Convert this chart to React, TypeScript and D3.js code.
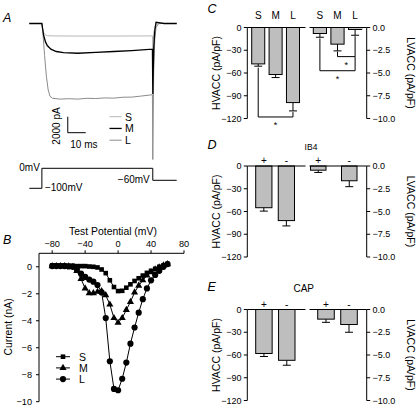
import React from "react";
import * as d3 from "d3";

const FONT = "'Liberation Sans', Arial, Helvetica, sans-serif";

// ---------- Panel A: current traces (time in ms, current in nA) ----------
const TRACE_S: [number, number][] = [
  [-7, 0], [0, 0], [0.3, -0.5], [1, -1.15], [2, -1.42], [3, -1.52], [6, -1.55], [20, -1.57],
  [40, -1.57], [61.5, -1.55], [61.7, -3.6], [62.2, -1.2], [63, -0.3], [64.5, -0.05], [67, 0], [75, 0],
];
const TRACE_M: [number, number][] = [
  [-7, 0], [0, 0], [0.3, -0.5], [1, -1.5], [2, -2.3], [3, -2.75], [5, -3.2], [8, -3.5], [12, -3.65],
  [20, -3.72], [30, -3.62], [40, -3.5], [50, -3.38], [61.5, -3.2], [61.7, -8.8], [62.2, -3.2],
  [62.8, -0.9], [63.5, 0.15], [65, 0.1], [68, 0], [75, 0],
];
const TRACE_L: [number, number][] = [
  [-7, 0], [0, 0], [0.5, -1], [1.5, -4], [2.5, -6.6], [3.5, -8.3], [4.5, -9.1], [6, -9.35],
  [10, -9.45], [15, -9.4], [20, -9.45], [25, -9.35], [30, -9.38], [35, -9.3], [40, -9.33],
  [45, -9.22], [50, -9.2], [55, -9.08], [61.5, -8.9], [61.7, -17], [62.2, -6], [62.8, -2],
  [63.5, -0.5], [65, 0], [75, 0],
];
const PROTOCOL: [number, number][] = [
  [-7, -100], [0, -100], [0, 0], [61.7, 0], [61.7, -60], [75, -60],
];
const A_LEGEND = ["S", "M", "L"];

// ---------- Panel B: I-V curves ----------
const TEST_POTENTIALS = [
  -80, -75, -70, -65, -60, -55, -50, -45, -40, -35, -30, -25, -20, -15, -10,
  -5, 0, 5, 10, 15, 20, 25, 30, 35, 40, 45, 50, 55, 60,
];
const IV_S = [
  0.1, 0.1, 0.1, 0.1, 0.08, 0.08, 0.05, 0.05, 0.05, 0.02, 0, -0.05, -0.2, -0.47, -1.0,
  -1.5, -1.8, -1.78, -1.55, -1.3, -1.05, -0.85, -0.65, -0.45, -0.3, -0.15, 0, 0.1, 0.2,
];
const IV_M = [
  0.05, 0.05, 0.05, 0.05, 0.03, 0, -0.3, -0.9, -1.6, -1.95, -1.95, -1.85, -1.8, -2.1, -2.8,
  -3.8, -4.15, -3.8, -3.2, -2.6, -1.9, -1.4, -1.0, -0.65, -0.4, -0.2, -0.05, 0.1, 0.2,
];
const IV_L = [
  0.05, 0.05, 0.05, 0.05, 0.02, 0, -0.2, -0.5, -0.75, -0.95, -1.1, -1.35, -1.9, -3.8, -7.0,
  -9.05, -9.15, -8.3, -7.1, -5.7, -4.5, -3.4, -2.4, -1.6, -1.0, -0.6, -0.3, 0, 0.2,
];
const B_X_TICKS = [-80, -40, 0, 40, 80];
const B_Y_TICKS = [0, -2, -4, -6, -8, -10];
const B_LEGEND = ["S", "M", "L"];

// ---------- Panels C, D, E: bar charts ----------
const HV_TICKS = [0, -30, -60, -90, -120];
const LV_TICKS = [0, -2.5, -5, -7.5, -10];

const C_GROUPS = ["S", "M", "L"];
const C_HV = [-48, -62, -99];
const C_HV_ERR = [3, 4, 11];
const C_LV = [-0.66, -1.83, -0.22];
const C_LV_ERR = [0.41, 0.74, 0.63];

const D_GROUPS = ["+", "-"];
const D_HV = [-55, -72];
const D_HV_ERR = [4.5, 7];
const D_LV = [-0.46, -1.62];
const D_LV_ERR = [0.25, 0.65];

const E_GROUPS = ["+", "-"];
const E_HV = [-58, -67];
const E_HV_ERR = [4, 6.5];
const E_LV = [-1.06, -1.65];
const E_LV_ERR = [0.35, 0.85];

const BAR_FILL = "#bebebe";

function PanelA() {
  const x = d3.scaleLinear().domain([-7, 75]).range([29.3, 176.7]);
  const y = d3.scaleLinear().domain([0, -17]).range([23.5, 159.5]);
  const v = d3.scaleLinear().domain([0, -100]).range([168.3, 188.3]);
  const line = d3.line<[number, number]>().x((d) => x(d[0])).y((d) => y(d[1]));
  const pline = d3.line<[number, number]>().x((d) => x(d[0])).y((d) => v(d[1]));
  const colors = ["#b8b8b8", "#000", "#8c8c8c"];
  const sbT = 14.4, sbI = -13.65;
  return (
    <g>
      <text x={3} y={22} fontSize={12.5} fontStyle="italic" fontFamily={FONT}>A</text>
      <path d={line(TRACE_S)!} fill="none" stroke={colors[0]} strokeWidth={1} />
      <path d={line(TRACE_L)!} fill="none" stroke={colors[2]} strokeWidth={1} />
      <path d={line(TRACE_M)!} fill="none" stroke={colors[1]} strokeWidth={1.3} />
      {/* scale bar */}
      <path
        d={`M${x(sbT)},${y(sbI + 2)}V${y(sbI)}H${x(sbT + 10)}`}
        fill="none" stroke="#000" strokeWidth={1}
      />
      <text transform={`translate(60,126) rotate(-90)`} textAnchor="middle" fontSize={10} fontFamily={FONT}>2000 pA</text>
      <text x={x(sbT) + 2.5} y={148} fontSize={10} fontFamily={FONT}>10 ms</text>
      {A_LEGEND.map((s, i) => (
        <g key={s} transform={`translate(0,${116.7 + i * 11.75})`}>
          <line x1={109.5} x2={121.7} y1={0} y2={0} stroke={colors[i]} strokeWidth={i === 1 ? 1.3 : 1} />
          <text x={125} y={3.8} fontSize={10.5} fontFamily={FONT}>{s}</text>
        </g>
      ))}
      {/* protocol */}
      <path d={pline(PROTOCOL)!} fill="none" stroke="#000" strokeWidth={1} />
      <text x={x(0) - 2} y={170.5} textAnchor="end" fontSize={10} fontFamily={FONT}>0mV</text>
      <text x={x(0) + 3} y={191} fontSize={10} fontFamily={FONT}>−100mV</text>
      <text x={x(61.7) - 3} y={182.5} textAnchor="end" fontSize={10} fontFamily={FONT}>−60mV</text>
    </g>
  );
}

function PanelB() {
  const x = d3.scaleLinear().domain([-96, 80]).range([39, 184]);
  const y = d3.scaleLinear().domain([1, -10]).range([253.3, 401.7]);
  const series = [IV_S, IV_M, IV_L].map((vals) =>
    TEST_POTENTIALS.map((t, i) => [t, vals[i]] as [number, number])
  );
  const line = d3.line<[number, number]>().x((d) => x(d[0])).y((d) => y(d[1]));
  const tri = d3.symbol(d3.symbolTriangle, 22)()!;
  const marker = (k: number, cx: number, cy: number, key: string) => {
    if (k === 0) return <rect key={key} x={cx - 2.3} y={cy - 2.3} width={4.6} height={4.6} fill="#000" />;
    if (k === 1) return <path key={key} d={tri} transform={`translate(${cx},${cy})`} fill="#000" />;
    return <circle key={key} cx={cx} cy={cy} r={3.1} fill="#000" />;
  };
  const fmt = d3.format("d");
  return (
    <g>
      <text x={3} y={244} fontSize={12.5} fontStyle="italic" fontFamily={FONT}>B</text>
      <text x={113} y={234.5} textAnchor="middle" fontSize={10.4} fontFamily={FONT}>Test Potential (mV)</text>
      <line x1={x(-96)} x2={x(80)} y1={y(1)} y2={y(1)} stroke="#000" />
      {B_X_TICKS.map((t) => (
        <g key={t}>
          <line x1={x(t)} x2={x(t)} y1={y(1)} y2={y(1) - 3} stroke="#000" />
          <text x={x(t)} y={247} textAnchor="middle" fontSize={9.2} fontFamily={FONT}>{fmt(t)}</text>
        </g>
      ))}
      <line x1={x(-96)} x2={x(-96)} y1={y(1)} y2={y(-10)} stroke="#000" />
      {B_Y_TICKS.map((t) => (
        <g key={t}>
          <line x1={x(-96) - 3} x2={x(-96)} y1={y(t)} y2={y(t)} stroke="#000" />
          <text x={32} y={y(t) + 3.3} textAnchor="end" fontSize={9.2} fontFamily={FONT}>{fmt(t)}</text>
        </g>
      ))}
      <text transform={`translate(12,327) rotate(-90)`} textAnchor="middle" fontSize={10.4} fontFamily={FONT}>Current (nA)</text>
      {series.map((s, k) => (
        <g key={k}>
          <path d={line(s)!} fill="none" stroke="#000" strokeWidth={1} />
          {s.map((d, i) => marker(k, x(d[0]), y(d[1]), `${k}-${i}`))}
        </g>
      ))}
      {B_LEGEND.map((s, k) => {
        const ly = 356.7 + k * 11.2;
        return (
          <g key={s}>
            <line x1={56} x2={70} y1={ly} y2={ly} stroke="#000" />
            {marker(k, 63, ly, `lg${k}`)}
            <text x={79} y={ly + 3.8} fontSize={10.5} fontFamily={FONT}>{s}</text>
          </g>
        );
      })}
    </g>
  );
}

type BarProps = {
  y0: number;
  letter: string;
  letterY: number;
  groups: string[];
  hv: number[];
  hvErr: number[];
  lv: number[];
  lvErr: number[];
  leftRange: [number, number];
  rightRange: [number, number];
  padL: number;
  padR: number;
  labelY: number;
  title?: string;
  titleX?: number;
  titleY?: number;
  titleSize?: number;
  brackets?: boolean;
};

function BarPanel(p: BarProps) {
  const H = 91;
  const axL = 247.3, axR = 366.7;
  const yHV = d3.scaleLinear().domain([0, -120]).range([p.y0, p.y0 + H]);
  const yLV = d3.scaleLinear().domain([0, -10]).range([p.y0, p.y0 + H]);
  const xL = d3.scaleBand().domain(p.groups).range(p.leftRange).paddingInner(p.padL);
  const xR = d3.scaleBand().domain(p.groups).range(p.rightRange).paddingInner(p.padR);
  const fHV = d3.format("d");
  const fLV = d3.format(".1f");
  const cap = 4;
  const bars = (xs: d3.ScaleBand<string>, ys: d3.ScaleLinear<number, number>, vals: number[], errs: number[], key: string) =>
    p.groups.map((g, i) => {
      const bx = xs(g)!;
      const bw = xs.bandwidth();
      const cx = bx + bw / 2;
      const yb = ys(vals[i]);
      const ye = ys(vals[i] - errs[i]);
      return (
        <g key={key + g}>
          <line x1={cx} x2={cx} y1={yb} y2={ye} stroke="#000" />
          <line x1={cx - cap} x2={cx + cap} y1={ye} y2={ye} stroke="#000" />
          <rect x={bx} y={ys(0)} width={bw} height={yb - ys(0)} fill={BAR_FILL} stroke="#000" strokeWidth={1} />
        </g>
      );
    });
  const cL = (g: string) => xL(g)! + xL.bandwidth() / 2;
  const cR = (g: string) => xR(g)! + xR.bandwidth() / 2;
  return (
    <g>
      <text x={207.5} y={p.letterY} fontSize={12.5} fontStyle="italic" fontFamily={FONT}>{p.letter}</text>
      {p.title && (
        <text x={p.titleX} y={p.titleY} textAnchor="middle" fontSize={p.titleSize} fontFamily={FONT}>{p.title}</text>
      )}
      {p.groups.map((g) => (
        <g key={"lab" + g}>
          <text x={cL(g)} y={p.labelY} textAnchor="middle" fontSize={10} fontFamily={FONT}>{g}</text>
          <text x={cR(g)} y={p.labelY} textAnchor="middle" fontSize={10} fontFamily={FONT}>{g}</text>
        </g>
      ))}
      {bars(xL, yHV, p.hv, p.hvErr, "hv")}
      {bars(xR, yLV, p.lv, p.lvErr, "lv")}
      {/* axes */}
      <line x1={axL} x2={axL} y1={yHV(0)} y2={yHV(-120)} stroke="#000" />
      <line x1={axR} x2={axR} y1={yLV(0)} y2={yLV(-10)} stroke="#000" />
      <line x1={axL} x2={305.5} y1={yHV(0)} y2={yHV(0)} stroke="#000" />
      <line x1={309.5} x2={axR} y1={yLV(0)} y2={yLV(0)} stroke="#000" />
      {HV_TICKS.map((t) => (
        <g key={"h" + t}>
          <line x1={axL - 3.5} x2={axL} y1={yHV(t)} y2={yHV(t)} stroke="#000" />
          <text x={241.5} y={yHV(t) + 3.2} textAnchor="end" fontSize={9} fontFamily={FONT}>{fHV(t)}</text>
        </g>
      ))}
      {LV_TICKS.map((t) => (
        <g key={"l" + t}>
          <line x1={axR} x2={axR + 3.5} y1={yLV(t)} y2={yLV(t)} stroke="#000" />
          <text x={372.5} y={yLV(t) + 3.2} fontSize={9} fontFamily={FONT}>{fLV(t)}</text>
        </g>
      ))}
      <text transform={`translate(220,${p.y0 + H / 2}) rotate(-90)`} textAnchor="middle" fontSize={10.5} fontFamily={FONT}>HVACC (pA/pF)</text>
      <text transform={`translate(406.5,${p.y0 + H / 2}) rotate(90)`} textAnchor="middle" fontSize={10.5} fontFamily={FONT}>LVACC (pA/pF)</text>
      {p.brackets && (
        <g fill="none" stroke="#000" strokeWidth={1}>
          <path d={`M${cL("S")},${yHV(-53)}V${yHV(-118)}H${cL("L")}V${yHV(-111.5)}`} />
          <path d={`M${cR("M")},${yLV(-2.65)}V${yLV(-3.2)}H${cR("L")}V${yLV(-0.95)}`} />
          <path d={`M${cR("S")},${yLV(-1.2)}V${yLV(-4.75)}H${cR("L")}V${yLV(-3.2)}`} />
        </g>
      )}
      {p.brackets && (
        <g fontSize={9} fontFamily={FONT} textAnchor="middle">
          <text x={(cL("S") + cL("L")) / 2} y={yHV(-118) + 11}>*</text>
          <text x={(cR("M") + cR("L")) / 2} y={yLV(-3.2) + 11}>*</text>
          <text x={(cR("S") + cR("L")) / 2} y={yLV(-4.75) + 11}>*</text>
        </g>
      )}
    </g>
  );
}

export default function App() {
  return (
    <svg
      width={416}
      height={408}
      viewBox="0 0 416 408"
      style={{ position: "absolute", left: 0, top: 0, background: "#fff" }}
      fontFamily={FONT}
    >
      <rect width={416} height={408} fill="#fff" />
      <PanelA />
      <PanelB />
      <BarPanel
        y0={27.5} letter="C" letterY={13}
        groups={C_GROUPS} hv={C_HV} hvErr={C_HV_ERR} lv={C_LV} lvErr={C_LV_ERR}
        leftRange={[251.7, 299.5]} rightRange={[313.3, 361.7]} padL={0.25} padR={0.25}
        labelY={18.5} brackets
      />
      <BarPanel
        y0={166} letter="D" letterY={149}
        groups={D_GROUPS} hv={D_HV} hvErr={D_HV_ERR} lv={D_LV} lvErr={D_LV_ERR}
        leftRange={[255.7, 294.5]} rightRange={[310.5, 357]} padL={0.28} padR={0.5}
        labelY={164} title="IB4" titleX={311} titleY={150} titleSize={8.5}
      />
      <BarPanel
        y0={309.5} letter="E" letterY={291}
        groups={E_GROUPS} hv={E_HV} hvErr={E_HV_ERR} lv={E_LV} lvErr={E_LV_ERR}
        leftRange={[255.7, 295]} rightRange={[317.7, 357.3]} padL={0.28} padR={0.28}
        labelY={307.5} title="CAP" titleX={303.7} titleY={291.5} titleSize={10}
      />
    </svg>
  );
}
